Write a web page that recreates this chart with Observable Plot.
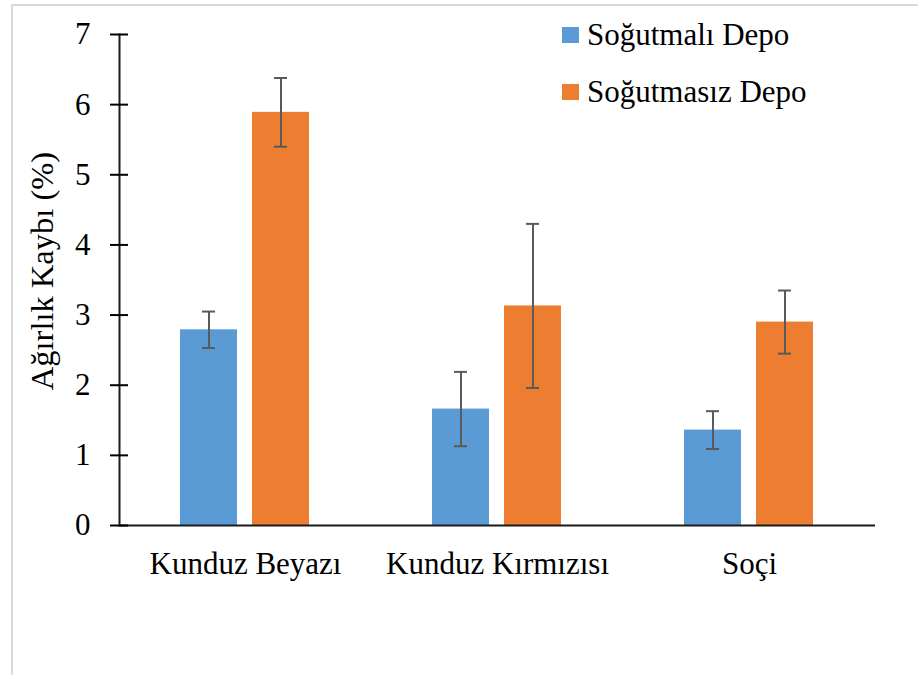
<!DOCTYPE html>
<html>
<head>
<meta charset="utf-8">
<script src="https://cdn.jsdelivr.net/npm/d3@7"></script>
<script src="https://cdn.jsdelivr.net/npm/@observablehq/plot@0.6"></script>
<style>
  html, body { margin: 0; padding: 0; background: #fff; }
  #wrap { position: relative; width: 918px; height: 675px; overflow: hidden; font-family: "Liberation Serif", "Times New Roman", serif; }
  #border { position: absolute; left: 11px; top: 4px; width: 1000px; height: 1000px; border-left: 2px solid #d9d9d9; border-top: 2px solid #d9d9d9; pointer-events: none; }
  #legend { position: absolute; left: 562px; top: 6px; font-size: 31px; color: #000; }
  .item { display: flex; align-items: center; height: 57px; line-height: 1; }
  .sw { width: 17px; height: 16px; margin-right: 8px; }
</style>
</head>
<body>
<div id="wrap">
  <div id="border"></div>
  <div id="chart"></div>
  <div id="legend"></div>
</div>
<script>
const categories = ["Kunduz Beyazı", "Kunduz Kırmızısı", "Soçi"];
const series = ["Soğutmalı Depo", "Soğutmasız Depo"];
const colors = ["#5B9BD5", "#ED7D31"];
const cooled = [2.79, 1.66, 1.36];
const cooledErr = [0.26, 0.53, 0.27];
const uncooled = [5.89, 3.13, 2.90];
const uncooledErr = [0.49, 1.17, 0.45];
const yTicks = [0, 1, 2, 3, 4, 5, 6, 7];
const yLabel = "Ağırlık Kaybı (%)";

const rows = categories.flatMap((c, i) => [
  {category: c, series: series[0], value: cooled[i], err: cooledErr[i]},
  {category: c, series: series[1], value: uncooled[i], err: uncooledErr[i]}
]);

const axisColor = "#1a1a1a";
const errColor = "#5a5a5a";

const chart = Plot.plot({
  width: 918,
  height: 675,
  marginLeft: 119,
  marginRight: 43,
  marginTop: 34,
  marginBottom: 150,
  style: {fontFamily: "'Liberation Serif', 'Times New Roman', serif", fontSize: "31px", color: "#000", background: "transparent"},
  fx: {domain: categories, padding: 0, label: null},
  x: {domain: series, paddingInner: 0.208, paddingOuter: 0.854, axis: null},
  y: {domain: [0, 7], ticks: yTicks, label: null},
  color: {domain: series, range: colors},
  marks: [
    Plot.barY(rows, {fx: "category", x: "series", y: "value", fill: "series"}),
    Plot.ruleX(rows, {fx: "category", x: "series", y1: d => d.value - d.err, y2: d => d.value + d.err, stroke: errColor, strokeWidth: 2}),
    Plot.tickY(rows, {fx: "category", x: "series", y: d => d.value + d.err, stroke: errColor, strokeWidth: 2, insetLeft: 22, insetRight: 22}),
    Plot.tickY(rows, {fx: "category", x: "series", y: d => d.value - d.err, stroke: errColor, strokeWidth: 2, insetLeft: 22, insetRight: 22}),
    Plot.ruleY([0], {stroke: axisColor, strokeWidth: 2}),
    Plot.frame({anchor: "left", facetAnchor: "left", stroke: axisColor, strokeWidth: 2}),
    Plot.axisY(yTicks, {anchor: "left", tickSize: 18, dx: 9, tickPadding: 20, strokeWidth: 2, tickFormat: d3.format("d"), label: null}),
    Plot.text([yLabel], {frameAnchor: "left", facetAnchor: "left", rotate: -90, text: d => d, dx: -77, dy: -9, fontSize: 32.5, textAnchor: "middle", lineAnchor: "middle", fill: "#000"}),
    Plot.axisFx({anchor: "bottom", tickSize: 0, tickPadding: 26, label: null})
  ]
});
document.getElementById("chart").appendChild(chart);

const legend = document.getElementById("legend");
series.forEach((s, i) => {
  const item = document.createElement("div");
  item.className = "item";
  const sw = document.createElement("div");
  sw.className = "sw";
  sw.style.background = colors[i];
  const t = document.createElement("span");
  t.textContent = s;
  item.appendChild(sw);
  item.appendChild(t);
  legend.appendChild(item);
});
</script>
</body>
</html>
